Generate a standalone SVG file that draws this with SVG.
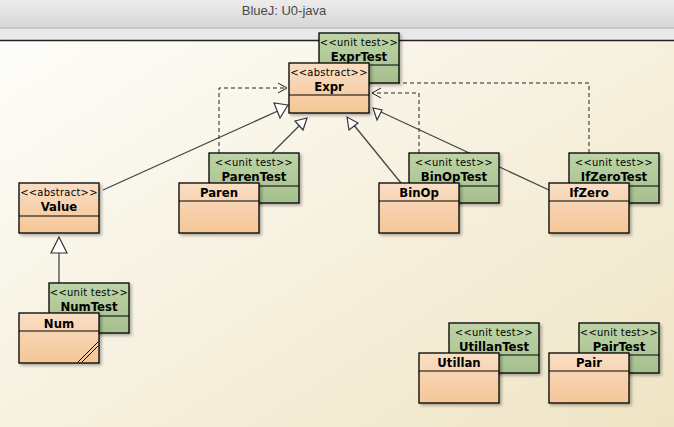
<svg xmlns="http://www.w3.org/2000/svg" width="674" height="427" viewBox="0 0 674 427">
<defs>
<linearGradient id="bg" x1="0" y1="0" x2="1" y2="1"><stop offset="0" stop-color="#fefefc"/><stop offset="1" stop-color="#efe4c4"/></linearGradient>
<linearGradient id="tb" x1="0" y1="0" x2="0" y2="1"><stop offset="0" stop-color="#ececec"/><stop offset="1" stop-color="#d6d6d6"/></linearGradient>
<linearGradient id="or" x1="0" y1="0" x2="0" y2="1"><stop offset="0" stop-color="#f9dec4"/><stop offset="1" stop-color="#f4c696"/></linearGradient>
<linearGradient id="gr" x1="0" y1="0" x2="0" y2="1"><stop offset="0" stop-color="#bdd4a6"/><stop offset="1" stop-color="#a6bf8e"/></linearGradient>
<filter id="sh" x="-10%" y="-10%" width="130%" height="130%"><feDropShadow dx="2" dy="2" stdDeviation="1.5" flood-opacity="0.3"/></filter>
</defs>
<style>
.o{fill:url(#or);stroke:#000;stroke-width:1.3;filter:url(#sh)}
.g{fill:url(#gr);stroke:#000;stroke-width:1.3;filter:url(#sh)}
.d{stroke:#000;stroke-width:1}
.st{font-family:"DejaVu Sans Condensed","Liberation Sans",sans-serif;font-size:11px;letter-spacing:0.3px;text-anchor:middle;fill:#000}
.nm{font-family:"DejaVu Sans Condensed","Liberation Sans",sans-serif;font-size:13px;font-weight:bold;text-anchor:middle;fill:#000}
.inh{stroke:#444;stroke-width:1.3;fill:none}
.tri{fill:#fff;stroke:#333;stroke-width:1.2}
.dep{stroke:#222;stroke-width:1;fill:none;stroke-dasharray:4,3}
.ah{stroke:#222;stroke-width:1;fill:none}
</style>
<rect width="674" height="427" fill="url(#bg)"/>
<rect width="674" height="28" fill="url(#tb)"/>
<text x="284" y="15" font-family="Liberation Sans,sans-serif" font-size="13" fill="#4a4a4a" text-anchor="middle">BlueJ:  U0-java</text>
<rect y="28" width="674" height="12" fill="#e9e9e9"/>
<line x1="0" y1="28" x2="674" y2="28" stroke="#b0b0b0"/>
<line x1="0" y1="40.5" x2="674" y2="40.5" stroke="#222" stroke-width="1.5"/>
<g id="connectors">
<path class="dep" d="M219,153 V88 H287"/><path class="ah" d="M278,83 L287,88 L278,93"/>
<path class="dep" d="M419,153 V93 H372"/><path class="ah" d="M381,88 L372,93 L381,98"/>
<path class="dep" d="M589,153 V83 H399"/>
<line class="inh" x1="103" y1="190" x2="280" y2="110"/><polygon class="tri" points="288,105 274,103 280,118"/>
<line class="inh" x1="272" y1="153" x2="300" y2="125"/><polygon class="tri" points="307,118 295,121 303,130"/>
<line class="inh" x1="401" y1="183" x2="353" y2="124"/><polygon class="tri" points="347,117 349,130 358,123"/>
<line class="inh" x1="549" y1="190" x2="381" y2="112"/><polygon class="tri" points="373,108 377,120 382,110"/>
<line class="inh" x1="59" y1="283" x2="59" y2="253"/><polygon class="tri" points="59,237 51,253 67,253"/>
</g>
<g id="ExprTest"><rect class="g" x="319" y="33" width="80" height="50"/><line class="d" x1="319" y1="65" x2="399" y2="65"/><text class="st" x="359" y="46">&lt;&lt;unit test&gt;&gt;</text><text class="nm" x="359" y="61">ExprTest</text></g>
<g id="Expr"><rect class="o" x="289" y="63" width="80" height="50"/><line class="d" x1="289" y1="95" x2="369" y2="95"/><text class="st" x="329" y="76">&lt;&lt;abstract&gt;&gt;</text><text class="nm" x="329" y="91">Expr</text></g>
<g id="ParenTest"><rect class="g" x="209" y="153" width="90" height="50"/><line class="d" x1="209" y1="186" x2="299" y2="186"/><text class="st" x="254" y="166">&lt;&lt;unit test&gt;&gt;</text><text class="nm" x="254" y="181">ParenTest</text></g>
<g id="Paren"><rect class="o" x="179" y="183" width="80" height="50"/><line class="d" x1="179" y1="201" x2="259" y2="201"/><text class="nm" x="219" y="197">Paren</text></g>
<g id="BinOpTest"><rect class="g" x="409" y="153" width="90" height="50"/><line class="d" x1="409" y1="186" x2="499" y2="186"/><text class="st" x="454" y="166">&lt;&lt;unit test&gt;&gt;</text><text class="nm" x="454" y="181">BinOpTest</text></g>
<g id="BinOp"><rect class="o" x="379" y="183" width="80" height="50"/><line class="d" x1="379" y1="201" x2="459" y2="201"/><text class="nm" x="419" y="197">BinOp</text></g>
<g id="IfZeroTest"><rect class="g" x="569" y="153" width="90" height="50"/><line class="d" x1="569" y1="186" x2="659" y2="186"/><text class="st" x="614" y="166">&lt;&lt;unit test&gt;&gt;</text><text class="nm" x="614" y="181">IfZeroTest</text></g>
<g id="IfZero"><rect class="o" x="549" y="183" width="80" height="50"/><line class="d" x1="549" y1="201" x2="629" y2="201"/><text class="nm" x="589" y="197">IfZero</text></g>
<g id="Value"><rect class="o" x="19" y="183" width="80" height="50"/><line class="d" x1="19" y1="216" x2="99" y2="216"/><text class="st" x="59" y="196">&lt;&lt;abstract&gt;&gt;</text><text class="nm" x="59" y="211">Value</text></g>
<g id="NumTest"><rect class="g" x="49" y="283" width="80" height="50"/><line class="d" x1="49" y1="316" x2="129" y2="316"/><text class="st" x="89" y="296">&lt;&lt;unit test&gt;&gt;</text><text class="nm" x="89" y="311">NumTest</text></g>
<g id="Num"><rect class="o" x="19" y="313" width="80" height="50" stroke-width="2.8"/><line class="d" x1="19" y1="331" x2="99" y2="331"/><text class="nm" x="59" y="328">Num</text><line class="d" x1="98" y1="342" x2="78" y2="362"/><line class="d" x1="98" y1="346" x2="82" y2="362"/></g>
<g id="UtillanTest"><rect class="g" x="449" y="323" width="90" height="50"/><line class="d" x1="449" y1="355" x2="539" y2="355"/><text class="st" x="494" y="336">&lt;&lt;unit test&gt;&gt;</text><text class="nm" x="494" y="351">UtillanTest</text></g>
<g id="Utillan"><rect class="o" x="419" y="353" width="80" height="50"/><line class="d" x1="419" y1="371" x2="499" y2="371"/><text class="nm" x="459" y="367">Utillan</text></g>
<g id="PairTest"><rect class="g" x="579" y="323" width="80" height="50"/><line class="d" x1="579" y1="355" x2="659" y2="355"/><text class="st" x="619" y="336">&lt;&lt;unit test&gt;&gt;</text><text class="nm" x="619" y="351">PairTest</text></g>
<g id="Pair"><rect class="o" x="549" y="353" width="80" height="50"/><line class="d" x1="549" y1="371" x2="629" y2="371"/><text class="nm" x="589" y="367">Pair</text></g>
</svg>
